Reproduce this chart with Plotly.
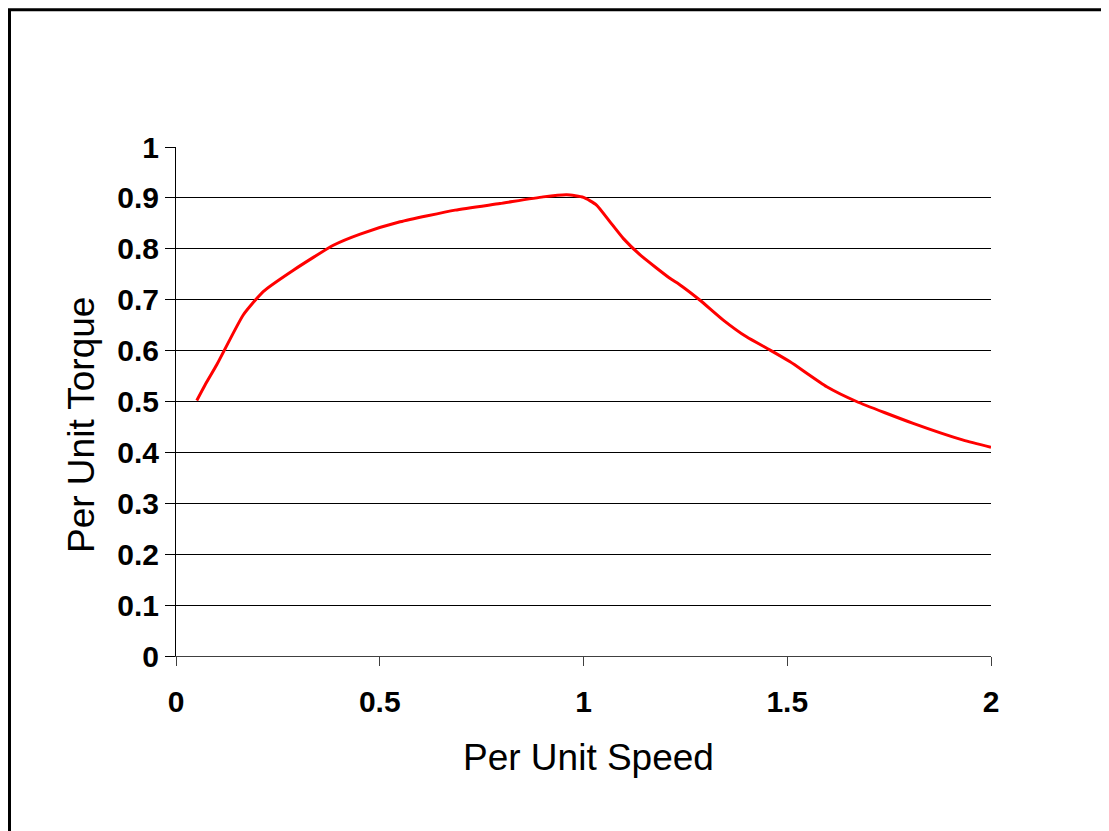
import plotly.graph_objects as go

speed = [0.051, 0.071, 0.100, 0.165, 0.214, 0.288, 0.386, 0.452, 0.550, 0.685,
         0.795, 0.901, 0.959, 1.000, 1.032, 1.065, 1.098, 1.139, 1.212, 1.237,
         1.286, 1.343, 1.400, 1.458, 1.507, 1.597, 1.670, 1.809, 1.932, 2.000]
torque = [0.502, 0.532, 0.572, 0.670, 0.716, 0.758, 0.807, 0.829, 0.853, 0.876,
          0.889, 0.902, 0.906, 0.901, 0.886, 0.853, 0.820, 0.788, 0.742, 0.729,
          0.699, 0.660, 0.627, 0.601, 0.578, 0.529, 0.500, 0.457, 0.424, 0.410]

x_ticks = [0, 0.5, 1, 1.5, 2]
x_labels = ["0", "0.5", "1", "1.5", "2"]
y_ticks = [0, 0.1, 0.2, 0.3, 0.4, 0.5, 0.6, 0.7, 0.8, 0.9, 1]
y_labels = ["0", "0.1", "0.2", "0.3", "0.4", "0.5", "0.6", "0.7", "0.8", "0.9", "1"]

FONT = "Liberation Sans, Arial, sans-serif"

fig = go.Figure()
fig.add_trace(go.Scatter(x=speed, y=torque, mode="lines",
                         line=dict(color="#FF0000", width=3, shape="spline", smoothing=0.5),
                         showlegend=False, hoverinfo="skip"))

fig.update_layout(
    width=1109, height=831,
    margin=dict(l=168, r=126, t=139, b=183),
    paper_bgcolor="white", plot_bgcolor="white",
    font=dict(family=FONT, color="black"),
    xaxis=dict(range=[0, 2], tickvals=x_ticks, ticktext=x_labels,
               showgrid=False, zeroline=False,
               showline=True, linecolor="#404040", linewidth=1,
               ticks="outside", ticklen=9, tickcolor="#404040", tickwidth=1,
               tickfont=dict(family=FONT, size=30, color="black", weight="bold"),
               ticklabelstandoff=10),
    yaxis=dict(range=[0, 1], tickvals=y_ticks, ticktext=y_labels,
               showgrid=True, gridcolor="#000000", gridwidth=1,
               zeroline=False,
               showline=True, linecolor="black", linewidth=1,
               ticks="outside", ticklen=10, tickcolor="black", tickwidth=1,
               tickfont=dict(family=FONT, size=30, color="black", weight="bold"),
               ticklabelstandoff=0),
    annotations=[
        dict(text="Per Unit Speed", xref="paper", yref="paper",
             x=(588 - 176) / 815, y=(656 - 757) / 509,
             xanchor="center", yanchor="middle", showarrow=False,
             font=dict(family=FONT, size=37, color="black")),
        dict(text="Per Unit Torque", xref="paper", yref="paper",
             x=(81 - 176) / 815, y=(656 - 425) / 509, textangle=-90,
             xanchor="center", yanchor="middle", showarrow=False,
             font=dict(family=FONT, size=37, color="black")),
    ],
    shapes=[
        dict(type="rect", xref="paper", yref="paper",
             x0=(9.5 - 176) / 815, x1=(1125 - 176) / 815,
             y0=(656 - 845) / 509, y1=(656 - 9.8) / 509,
             line=dict(color="black", width=3), fillcolor="rgba(0,0,0,0)",
             layer="below"),
    ],
)

fig.write_html("out.html")
